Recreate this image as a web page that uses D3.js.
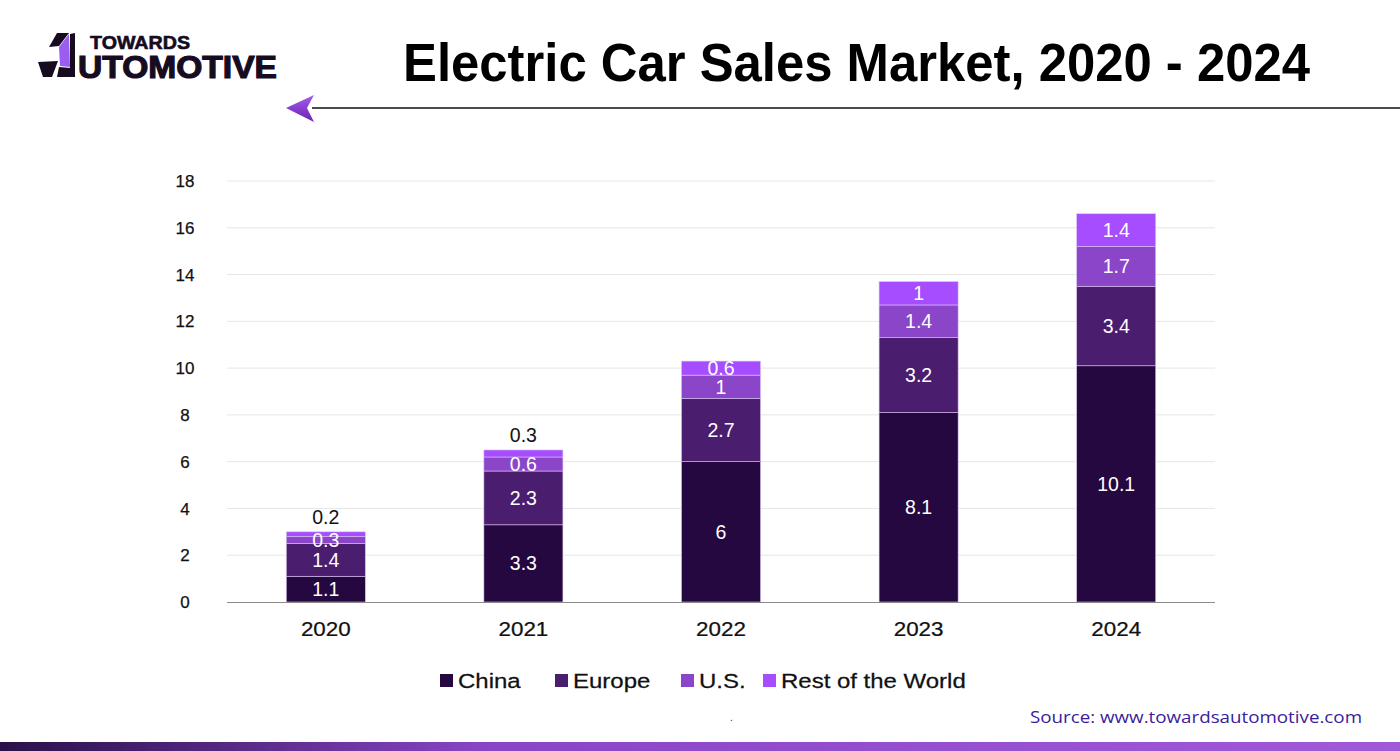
<!DOCTYPE html>
<html><head><meta charset="utf-8">
<script src="https://cdn.jsdelivr.net/npm/d3@7"></script>
<style>body{margin:0;background:#fff;}svg{display:block;}</style>
</head><body>
<svg id="c" width="1400" height="751"></svg>
<script>
const years = ["2020","2021","2022","2023","2024"];
const seriesNames = ["China","Europe","U.S.","Rest of the World"];
const china = [1.1, 3.3, 6, 8.1, 10.1];
const europe = [1.4, 2.3, 2.7, 3.2, 3.4];
const us = [0.3, 0.6, 1, 1.4, 1.7];
const rest = [0.2, 0.3, 0.6, 1, 1.4];
const yTicks = [0,2,4,6,8,10,12,14,16,18];
const colors = ["#25083f","#4a1d6e","#8b45c8","#a64dff"];

const svg = d3.select("#c");
const font = "'Liberation Sans', Arial, Helvetica, sans-serif";

// gradient defs
const defs = svg.append("defs");
const g1 = defs.append("linearGradient").attr("id","bottomGrad");
g1.append("stop").attr("offset","0%").attr("stop-color","#2a1048");
g1.append("stop").attr("offset","35%").attr("stop-color","#8a45c6");
g1.append("stop").attr("offset","100%").attr("stop-color","#a05ad8");
const g2 = defs.append("linearGradient").attr("id","arrowGrad").attr("x1","0").attr("y1","0").attr("x2","0").attr("y2","1");
g2.append("stop").attr("offset","0%").attr("stop-color","#a45cf0");
g2.append("stop").attr("offset","100%").attr("stop-color","#6a22b0");

// data table
const table = years.map((y,i)=>({year:y, China:china[i], Europe:europe[i], "U.S.":us[i], "Rest of the World":rest[i]}));
const stack = d3.stack().keys(seriesNames)(table);

const x = d3.scaleBand().domain(years).range([227,1215]).paddingInner(0.6).paddingOuter(0.3);
const y = d3.scaleLinear().domain([0,18]).range([602,181]);

// grid
svg.append("g").selectAll("line").data(yTicks.filter(d=>d>0)).join("line")
  .attr("x1",227).attr("x2",1215).attr("y1",d=>y(d)).attr("y2",d=>y(d))
  .attr("stroke","#e6e6e6").attr("stroke-width",1);

// y tick labels
svg.append("g").selectAll("text").data(yTicks).join("text")
  .attr("x",185).attr("y",d=>y(d)).attr("dy","0.36em").attr("text-anchor","middle")
  .attr("font-family",font).attr("font-size",17).attr("fill","#111")
  .attr("stroke","#111").attr("stroke-width",0.25).text(d=>d);

// bars
stack.forEach((s,si)=>{
  svg.append("g").selectAll("rect").data(s).join("rect")
    .attr("x",d=>x(d.data.year)).attr("width",x.bandwidth())
    .attr("y",d=>y(d[1])).attr("height",d=>y(d[0])-y(d[1]))
    .attr("fill",colors[si]).attr("stroke","#d9c2f0").attr("stroke-width",0.6);
});

// labels
stack.forEach((s,si)=>{
  svg.append("g").selectAll("text").data(s).join("text")
    .attr("x",d=>x(d.data.year)+x.bandwidth()/2)
    .attr("y",d=>{
      const v = d[1]-d[0];
      if (si===3 && v<0.5) return y(d[1]) - 15;
      return (y(d[0])+y(d[1]))/2;
    })
    .attr("dy","0.36em").attr("text-anchor","middle")
    .attr("font-family",font).attr("font-size",19.5)
    .attr("fill",d=>(si===3 && (d[1]-d[0])<0.5) ? "#111" : "#fff")
    .text(d=>+(d[1]-d[0]).toFixed(1));
});

// baseline
svg.append("line").attr("x1",227).attr("x2",1215).attr("y1",602.5).attr("y2",602.5)
  .attr("stroke","#8a8a8a").attr("stroke-width",1.2);

// x labels (slightly widened glyphs)
svg.append("g").selectAll("text").data(years).join("text")
  .attr("transform",d=>`translate(${x(d)+x.bandwidth()/2},636) scale(1.12,1)`)
  .attr("text-anchor","middle")
  .attr("font-family",font).attr("font-size",20).attr("fill","#111")
  .attr("stroke","#111").attr("stroke-width",0.25).text(d=>d);

// legend
const legendX = [440, 555, 681, 763];
const lg = svg.append("g").selectAll("g").data(seriesNames).join("g")
  .attr("transform",(d,i)=>`translate(${legendX[i]},680)`);
lg.append("rect").attr("x",0).attr("y",-6).attr("width",13).attr("height",13).attr("fill",(d,i)=>colors[i]);
lg.append("text").attr("transform","translate(18,7.5) scale(1.17,1)")
  .attr("font-family",font).attr("font-size",20.5).attr("fill","#111")
  .attr("stroke","#111").attr("stroke-width",0.25).text(d=>d);

// title
svg.append("text").attr("x",403).attr("y",81)
  .attr("font-family",font).attr("font-weight",700).attr("font-size",54)
  .attr("textLength",907).attr("lengthAdjust","spacingAndGlyphs")
  .attr("fill","#000").text("Electric Car Sales Market, 2020 - 2024");

// title underline with arrow
svg.append("line").attr("x1",312).attr("x2",1400).attr("y1",108).attr("y2",108)
  .attr("stroke","#111").attr("stroke-width",1.5);
svg.append("path").attr("d","M286,108 L314,95 L307,108 L314,122 Z").attr("fill","url(#arrowGrad)");

// logo
const logo = svg.append("g");
logo.append("path").attr("d","M49,47 L57,33 L69,33 L59,46 Z").attr("fill","#160b1f");
logo.append("path").attr("d","M59,47 L69,34 L70,67 L60,66 Z").attr("fill","#9b5cf0");
logo.append("path").attr("d","M70,34 L75,33 L75,77 L70,77 Z").attr("fill","#160b1f");
logo.append("path").attr("d","M38,62 L58,61 L52,77 L43,77 Z").attr("fill","#160b1f");
logo.append("path").attr("d","M59,67 L71,68 L75,77 L57,77 Z").attr("fill","#160b1f");
logo.append("text").attr("x",90).attr("y",49).attr("font-family",font)
  .attr("font-weight",700).attr("font-size",18).attr("textLength",100).attr("lengthAdjust","spacingAndGlyphs")
  .attr("fill","#160b1f").attr("stroke","#160b1f").attr("stroke-width",0.6).text("TOWARDS");
logo.append("text").attr("x",78).attr("y",78).attr("font-family",font)
  .attr("font-weight",700).attr("font-size",31).attr("fill","#160b1f")
  .attr("stroke","#160b1f").attr("stroke-width",1.2)
  .attr("textLength",199).attr("lengthAdjust","spacingAndGlyphs").text("UTOMOTIVE");

// source
svg.append("text").attr("x",1030).attr("y",723)
  .attr("font-family","'Open Sans', sans-serif").attr("font-weight",500).attr("font-size",15.5).attr("fill","#3a1c9c")
  .attr("textLength",332).attr("lengthAdjust","spacingAndGlyphs")
  .text("Source: www.towardsautomotive.com");
svg.append("text").attr("x",730).attr("y",721).attr("font-family",font).attr("font-size",10).attr("fill","#333").text(".");

// bottom bar
svg.append("rect").attr("x",0).attr("y",742).attr("width",1400).attr("height",9).attr("fill","url(#bottomGrad)");
</script>
</body></html>
